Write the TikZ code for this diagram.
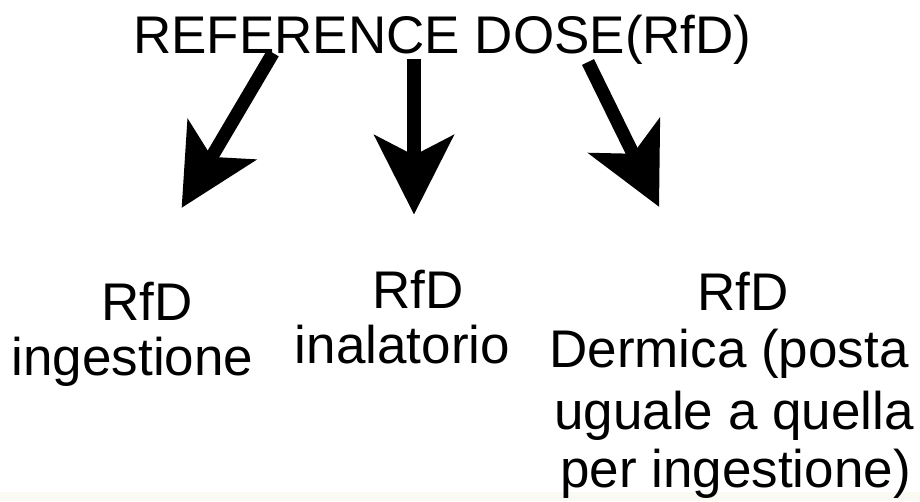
\documentclass[tikz,border=0pt]{standalone}
\usepackage{fontspec}
\setmainfont{Liberation Sans}
\usetikzlibrary{arrows.meta}
\definecolor{stripcol}{RGB}{250,250,243}
\begin{document}
\begin{tikzpicture}[x=1pt,y=-1pt,
  lbl/.style={anchor=base, inner sep=0pt, font=\fontsize{53}{58}\selectfont, text=black},
  bigarrow/.style={draw=black, line width=13.3pt,
    -{Stealth[length=80pt,width=81pt,inset=21pt,line width=0pt]}}]
\useasboundingbox (0,0) rectangle (920,501);
\fill[stripcol] (0,492) rectangle (920,501);

% title
\node[lbl] (title) at (442.5,53) {REFERENCE DOSE(RfD)};

% column 1
\node[lbl] (c1a) at (147,320) {RfD};
\node[lbl] (c1b) at (132.5,375) {ingestione};
% column 2
\node[lbl] (c2a) at (418,308) {RfD};
\node[lbl] (c2b) at (402.5,363) {inalatorio};
% column 3
\node[lbl] (c3a) at (743,310) {RfD};
\node[lbl] (c3b) at (729,367) {Dermica (posta};
\node[lbl] (c3c) at (734,429) {uguale a quella};
\node[lbl] (c3d) at (735.5,487) {per ingestione)};

% arrow ends
\coordinate (s1) at (273,53);
\coordinate (e1) at (181.7,207.7);
\coordinate (s2) at (414,59);
\coordinate (e2) at (414,214.3);
\coordinate (s3) at (588,62);
\coordinate (e3) at (659,206.7);

\draw[bigarrow] (s1) -- (e1);
\draw[bigarrow] (s2) -- (e2);
\draw[bigarrow] (s3) -- (e3);
\end{tikzpicture}
\end{document}
